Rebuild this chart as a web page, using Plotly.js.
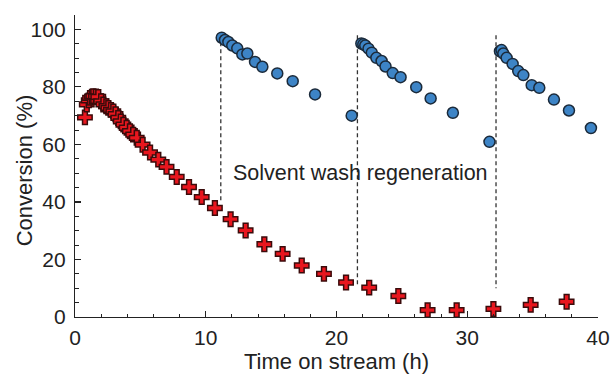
<!DOCTYPE html>
<html>
<head>
<meta charset="utf-8">
<script src="https://cdn.plot.ly/plotly-3.0.1.min.js"></script>
<style>html,body{margin:0;padding:0;background:#fff;}#chart{width:612px;height:376px;}</style>
</head>
<body>
<div id="chart"></div>
<script>
// Red series: continuous run without regeneration
const redTime = [0.76, 0.9, 1.05, 1.15, 1.3, 1.4, 1.6, 1.78, 2.0, 2.17, 2.4, 2.55, 2.75, 2.93, 3.1, 3.31, 3.5, 3.7, 3.95, 4.2, 4.45, 4.72, 5.17, 5.74, 6.37, 7.0, 7.78, 8.72, 9.69, 10.7, 11.9, 13.05, 14.48, 15.88, 17.34, 19.04, 20.73, 22.5, 24.73, 26.97, 29.19, 32.0, 34.85, 37.6];
const redConv = [69.4, 73.9, 75.3, 76.2, 76.6, 76.8, 76.7, 76.5, 75.0, 73.9, 73.3, 72.7, 72.0, 71.5, 70.5, 69.2, 68.0, 66.9, 65.8, 64.6, 63.4, 62.3, 59.9, 57.2, 54.7, 52.2, 48.7, 45.2, 41.7, 37.9, 34.0, 30.1, 25.3, 21.95, 17.9, 15.0, 12.0, 10.2, 7.3, 2.4, 2.4, 2.8, 4.2, 5.3];
// Blue series: runs after solvent wash regeneration
const blueTime = [11.22, 11.47, 11.73, 12.03, 12.41, 12.8, 13.18, 13.77, 14.33, 15.47, 16.65, 18.36, 21.16,
                  21.9, 22.05, 22.2, 22.45, 22.7, 23.05, 23.45, 23.75, 24.3, 24.9, 26.1, 27.2, 28.9, 31.7,
                  32.5, 32.62, 32.76, 33.01, 33.47, 33.9, 34.29, 34.93, 35.51, 36.63, 37.78, 39.46];
const blueConv = [97.1, 96.3, 95.6, 94.4, 93.4, 91.3, 91.6, 88.7, 87.0, 84.7, 82.0, 77.4, 70.0,
                  95.1, 94.8, 94.4, 93.3, 91.9, 90.1, 89.0, 87.1, 84.8, 83.4, 79.9, 76.0, 71.0, 60.9,
                  92.4, 92.8, 91.6, 90.1, 88.0, 85.5, 84.1, 80.6, 79.7, 75.6, 71.8, 65.7];
// Regeneration events (dashed markers)
const regenTime = [11.15, 21.6, 32.2];
const regenTop = [98, 98, 98];
const regenBottom = [40, 10.5, 10];
const annotationText = "Solvent wash regeneration";
const yTitleText = "Conversion (%)";
const xTitleText = "Time on stream (h)";
const xTickVals = [0, 10, 20, 30, 40];
const yTickVals = [0, 20, 40, 60, 80, 100];

const lx = [], ly = [];
regenTime.forEach((t, i) => { lx.push(t, t, null); ly.push(regenTop[i], regenBottom[i], null); });

const font = "Arial, 'Liberation Sans', Helvetica, sans-serif";
const traces = [
  {x: lx, y: ly, mode: 'lines', type: 'scatter', hoverinfo: 'skip', showlegend: false,
   line: {color: '#333333', width: 1.3, dash: '4px,3px'}},
  {x: redTime, y: redConv, mode: 'markers', type: 'scatter', showlegend: false,
   marker: {symbol: 'cross', size: 12, color: '#e8161e', line: {color: '#3a0b0b', width: 1.5}}},
  {x: blueTime, y: blueConv, mode: 'markers', type: 'scatter', showlegend: false,
   marker: {symbol: 'circle', size: 11, color: '#3d84c6', line: {color: '#1b2a3a', width: 1.5}}}
];

const axisCommon = {
  showgrid: false, zeroline: false, showline: true, linecolor: '#222', linewidth: 1.2,
  ticks: 'inside', ticklen: 6, tickwidth: 1.1, tickcolor: '#222',
  tickfont: {family: font, size: 21, color: '#222'}, mirror: false
};

const layout = {
  width: 612, height: 376,
  margin: {l: 75, r: 14, t: 15, b: 59},
  paper_bgcolor: '#fff', plot_bgcolor: '#fff',
  font: {family: font, color: '#222'},
  xaxis: Object.assign({}, axisCommon, {
    range: [0, 40], tickvals: xTickVals, ticklabelstandoff: 2,
    minor: {dtick: 2, ticks: 'inside', ticklen: 3, tickwidth: 1, tickcolor: '#222', showgrid: false},
    title: {text: xTitleText, font: {family: font, size: 22, color: '#222'}, standoff: 5}
  }),
  yaxis: Object.assign({}, axisCommon, {
    range: [0, 105], tickvals: yTickVals, ticklabelstandoff: 4,
    minor: {dtick: 5, ticks: 'inside', ticklen: 4, tickwidth: 1, tickcolor: '#222', showgrid: false}
  }),
  annotations: [
    {x: 21.8, y: 50.2, xref: 'x', yref: 'y', text: annotationText, showarrow: false,
     font: {family: font, size: 21.5, color: '#222'}, bgcolor: 'rgba(0,0,0,0)'},
    {x: -0.096, y: 0.485, xref: 'paper', yref: 'paper', text: yTitleText, showarrow: false,
     textangle: -90, xanchor: 'center', yanchor: 'middle',
     font: {family: font, size: 22, color: '#222'}}
  ]
};

Plotly.newPlot('chart', traces, layout, {staticPlot: true, displayModeBar: false});
</script>
</body>
</html>
